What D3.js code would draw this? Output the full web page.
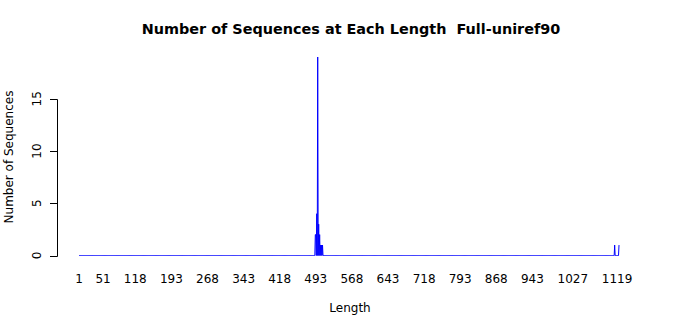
<!DOCTYPE html>
<html>
<head>
<meta charset="utf-8">
<script src="https://cdn.jsdelivr.net/npm/d3@7"></script>
<style>
  html, body { margin: 0; padding: 0; background: #fff; }
  svg { display: block; font-family: "DejaVu Sans", sans-serif; }
  text { white-space: pre; }
</style>
</head>
<body>
<svg id="chart" width="700" height="315"></svg>
<script>
// ---- data ----
const title = "Number of Sequences at Each Length  Full-uniref90";
const xLabel = "Length";
const yLabel = "Number of Sequences";
const maxLength = 1123;
// lengths that have at least one sequence, and their counts
const seqLengths = [492, 493, 495, 497, 499, 501, 503, 505, 507, 1114, 1123];
const seqCounts  = [2,   2,   4,   19,  3,   2,   1,   1,   1,   1,    1];
const xTickLabels = [1, 51, 118, 193, 268, 343, 418, 493, 568, 643, 718, 793, 868, 943, 1027, 1119];
const yTicks = [0, 5, 10, 15];

// ---- build per-length series (zero where no sequences) ----
const countMap = new Map(seqLengths.map((l, i) => [l, seqCounts[i]]));
const series = d3.range(1, maxLength + 1).map(l => ({ len: l, n: countMap.get(l) || 0 }));

const svg = d3.select("#chart");
const x = d3.scaleLinear().domain([1, maxLength]).range([79, 619]);
const y = d3.scaleLinear().domain([0, 19]).range([255.5, 57]);

// title
svg.append("text")
  .attr("x", 351).attr("y", 34)
  .attr("text-anchor", "middle")
  .attr("font-weight", "bold")
  .attr("font-size", 14.4)
  .attr("fill", "#000")
  .text(title);

// line
const line = d3.line().x(d => x(d.len)).y(d => y(d.n));
svg.append("path")
  .datum(series)
  .attr("d", line)
  .attr("fill", "none")
  .attr("stroke", "#0000ff")
  .attr("stroke-width", 1);

// y axis (R style: line only from first to last tick)
const yAxisX = 57;
const yg = svg.append("g");
yg.append("line")
  .attr("x1", yAxisX + 0.5).attr("x2", yAxisX + 0.5)
  .attr("y1", Math.round(y(yTicks[0])) + 0.5).attr("y2", Math.round(y(yTicks[yTicks.length - 1])) + 0.5)
  .attr("stroke", "#000");
yg.selectAll(".tick").data(yTicks).enter().append("line")
  .attr("x1", yAxisX - 7).attr("x2", yAxisX + 0.5)
  .attr("y1", d => Math.round(y(d)) + 0.5).attr("y2", d => Math.round(y(d)) + 0.5)
  .attr("stroke", "#000");
yg.selectAll(".lbl").data(yTicks).enter().append("text")
  .attr("transform", d => `translate(41,${y(d)}) rotate(-90)`)
  .attr("text-anchor", "middle")
  .attr("font-size", 12)
  .attr("fill", "#000")
  .text(d => d);

// x tick labels (no axis line)
svg.selectAll(".xlbl").data(xTickLabels).enter().append("text")
  .attr("x", d => x(d)).attr("y", 283)
  .attr("text-anchor", "middle")
  .attr("font-size", 12)
  .attr("fill", "#000")
  .text(d => d);

// axis titles
svg.append("text")
  .attr("x", 350).attr("y", 312)
  .attr("text-anchor", "middle")
  .attr("font-size", 12)
  .attr("fill", "#000")
  .text(xLabel);
svg.append("text")
  .attr("transform", "translate(13,157) rotate(-90)")
  .attr("text-anchor", "middle")
  .attr("font-size", 12)
  .attr("fill", "#000")
  .text(yLabel);
</script>
</body>
</html>
